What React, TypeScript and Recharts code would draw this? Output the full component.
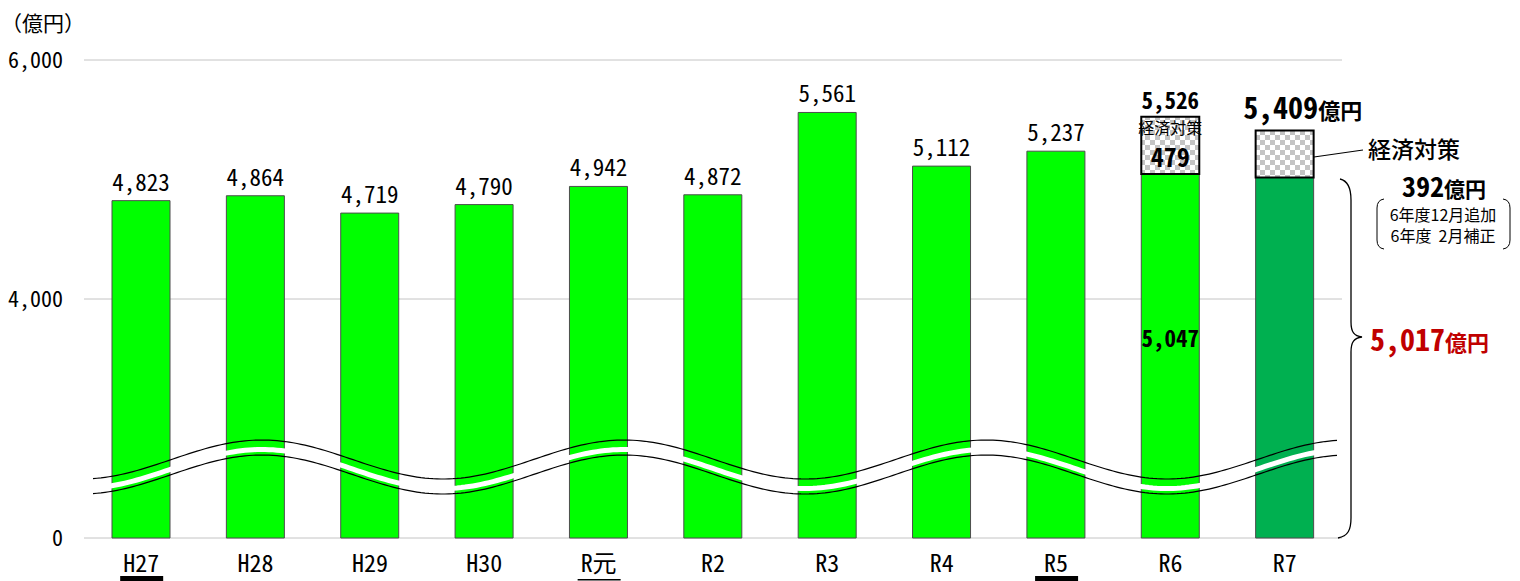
import { BarChart, Bar, XAxis, YAxis, CartesianGrid, Cell, LabelList } from 'recharts'

document.body.style.margin = '0'

const categories = ['H27', 'H28', 'H29', 'H30', 'R元', 'R2', 'R3', 'R4', 'R5', 'R6', 'R7']
// 当初予算等（億円）
const baseValues = [4823, 4864, 4719, 4790, 4942, 4872, 5561, 5112, 5237, 5047, 5017]
// 経済対策分（億円）
const measureValues = [0, 0, 0, 0, 0, 0, 0, 0, 0, 479, 392]
const yTicks = [0, 4000, 6000]

// broken axis: 0-4000 is drawn at half scale
const BREAK = 4000
const t = (v: number) => (v <= BREAK ? v / 2 : BREAK / 2 + (v - BREAK))
const tInv = (v: number) => (v <= BREAK / 2 ? v * 2 : BREAK + (v - BREAK / 2))

const rows = categories.map((c, i) => ({
  name: c,
  base: baseValues[i],
  measure: measureValues[i],
  total: baseValues[i] + measureValues[i],
}))

const MONO = "'Noto Sans Mono CJK JP', 'DejaVu Sans Mono', monospace"
const JP = "'Noto Sans CJK JP', sans-serif"
const fmt = (v: number) => v.toLocaleString('en-US')

const W = 1520
const H = 581

function XTick(props: any) {
  const { x, payload } = props
  const v = payload.value
  return (
    <g>
      <text x={x} y={572} textAnchor="middle" fontFamily={MONO} fontSize={24} fill="#000">
        {v}
      </text>
      {(v === 'H27' || v === 'R5') && <rect x={x - 21} y={576} width={43} height={5} fill="#000" />}
      {v === 'R元' && <rect x={x - 21} y={579} width={43} height={1.5} fill="#000" />}
    </g>
  )
}

function YTick(props: any) {
  const { y, payload } = props
  return (
    <text x={63} y={y + 8} textAnchor="end" fontFamily={MONO} fontSize={22} fill="#000">
      {fmt(tInv(payload.value))}
    </text>
  )
}

// labels for the whole stack are drawn from the base bar
function BarLabel(props: any) {
  const { x, y, width, height, index } = props
  const cx = x + width / 2
  const r = rows[index]
  const pxPerUnit = height / t(r.base)
  const top = y - (t(r.total) - t(r.base)) * pxPerUnit
  if (index === 9) {
    return (
      <g>
        <text x={cx} y={top - 8} textAnchor="middle" fontFamily={MONO} fontWeight="bold" fontSize={23} fill="#000">
          {fmt(r.total)}
        </text>
        <text x={cx} y={top + 17} textAnchor="middle" fontFamily={JP} fontSize={16} fill="#000">
          経済対策
        </text>
        <text x={cx} y={top + 50} textAnchor="middle" fontFamily={MONO} fontWeight="bold" fontSize={26} fill="#000">
          {r.measure}
        </text>
        <text x={cx} y={y + height * 0.45 + 9} textAnchor="middle" fontFamily={MONO} fontWeight="bold" fontSize={23} fill="#000">
          {fmt(r.base)}
        </text>
      </g>
    )
  }
  if (index === 10) {
    return (
      <text x={cx + 18} y={top - 12} textAnchor="middle" fill="#000" fontWeight="bold">
        <tspan fontFamily={MONO} fontSize={30}>{fmt(r.total)}</tspan>
        <tspan fontFamily={JP} fontSize={22}>億円</tspan>
      </text>
    )
  }
  return (
    <text x={cx} y={y - 10} textAnchor="middle" fontFamily={MONO} fontSize={23} fill="#000">
      {fmt(r.base)}
    </text>
  )
}

// 省略線（波線）
function wavePath(offset: number) {
  const pts: string[] = []
  for (let x = 93; x <= 1340; x += 4) {
    const y = 459.5 - 19.5 * Math.cos((2 * Math.PI * (x - 262)) / 362) + offset
    pts.push(`${x},${y.toFixed(2)}`)
  }
  return 'M' + pts.join(' L')
}

export default function App() {
  return (
    <div style={{ position: 'relative', width: W, height: H, background: '#fff' }}>
      <BarChart width={W} height={H} data={rows} margin={{ top: 60, right: 178, left: 8, bottom: 0 }} barSize={58}>
        <defs>
          <pattern id="checker" width="10" height="10" patternUnits="userSpaceOnUse">
            <rect width="10" height="10" fill="#ffffff" />
            <rect width="5" height="5" fill="#c4c4c4" />
            <rect x="5" y="5" width="5" height="5" fill="#c4c4c4" />
          </pattern>
        </defs>
        <CartesianGrid vertical={false} stroke="#c4c4c4" />
        <XAxis dataKey="name" height={43} axisLine={false} tickLine={false} tick={<XTick />} interval={0} />
        <YAxis
          width={76}
          domain={[0, t(6000)]}
          ticks={yTicks.map(t)}
          axisLine={false}
          tickLine={false}
          tick={<YTick />}
        />
        <Bar dataKey={(d: any) => t(d.base)} stackId="a" fill="#00ff00" stroke="#4d4d4d" strokeWidth={1} isAnimationActive={false}>
          {rows.map((r, i) => (
            <Cell key={r.name} fill={i === 10 ? '#00b050' : '#00ff00'} />
          ))}
          <LabelList content={<BarLabel />} />
        </Bar>
        <Bar dataKey={(d: any) => t(d.total) - t(d.base)} stackId="a" fill="url(#checker)" stroke="#000" strokeWidth={2} isAnimationActive={false} />
      </BarChart>

      <svg width={W} height={H} style={{ position: 'absolute', left: 0, top: 0, pointerEvents: 'none' }}>
        <path d={wavePath(9.5)} fill="none" stroke="#fff" strokeWidth={5} />
        <path d={wavePath(0)} fill="none" stroke="#000" strokeWidth={1.2} />
        <path d={wavePath(15)} fill="none" stroke="#000" strokeWidth={1.2} />

        <text x={1} y={31} fontFamily={JP} fontSize={21} fill="#000">（億円）</text>

        <line x1={1314} y1={157} x2={1363} y2={150} stroke="#000" strokeWidth={1.2} />
        <text x={1368} y={158} fontFamily={JP} fontSize={23} fontWeight={500} fill="#000">経済対策</text>
        <text x={1444} y={197} textAnchor="middle" fill="#000" fontWeight="bold">
          <tspan fontFamily={MONO} fontSize={28}>392</tspan>
          <tspan fontFamily={JP} fontSize={21}>億円</tspan>
        </text>
        <path d="M1384,199 Q1377,200 1377,208 L1377,240 Q1377,248 1384,249" fill="none" stroke="#000" strokeWidth={1} />
        <path d="M1503,199 Q1510,200 1510,208 L1510,240 Q1510,248 1503,249" fill="none" stroke="#000" strokeWidth={1} />
        <text x={1443} y={221} textAnchor="middle" fontFamily={JP} fontSize={16} fill="#000">6年度12月追加</text>
        <text x={1443} y={242} textAnchor="middle" fontFamily={JP} fontSize={16} fill="#000" style={{ whiteSpace: 'pre' }}>
          {'6年度  2月補正'}
        </text>

        <path
          d="M1340,179 C1349,181 1351,190 1351,200 L1351,322 C1351,332 1354,336 1362,337 C1354,338 1351,342 1351,352 L1351,518 C1351,530 1348,536 1338,538"
          fill="none"
          stroke="#000"
          strokeWidth={1.3}
        />
        <text x={1370} y={351} fill="#c00000" fontWeight="bold">
          <tspan fontFamily={MONO} fontSize={30}>5,017</tspan>
          <tspan fontFamily={JP} fontSize={22}>億円</tspan>
        </text>
      </svg>
    </div>
  )
}
